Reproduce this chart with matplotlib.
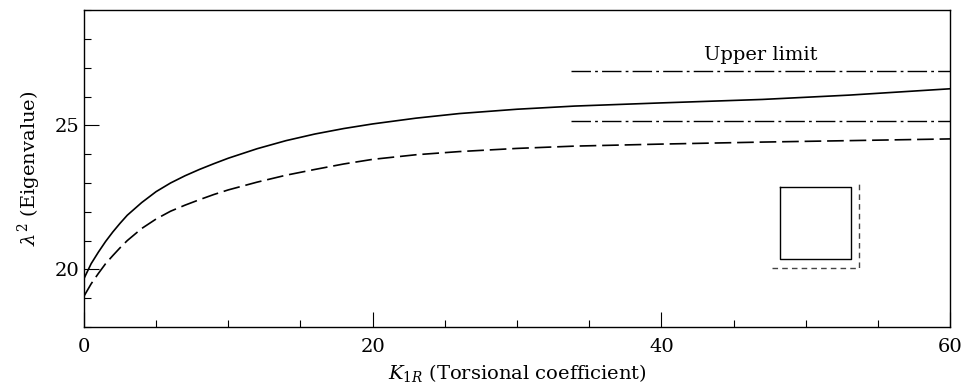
import numpy as np
import matplotlib
matplotlib.use("Agg")
from matplotlib import pyplot as plt
from matplotlib.ticker import MultipleLocator

plt.rcParams['font.family'] = ['DejaVu Serif']
plt.rcParams['mathtext.fontset'] = 'dejavuserif'

# torsional coefficient K_1R
k_vals = [0, 0.5, 1, 1.5, 2, 2.5, 3, 4, 5, 6, 7, 8, 9, 10, 12, 14, 16, 18, 20,
          23, 26, 30, 34, 40, 47, 53, 60]
lam_solid = [19.68, 20.2, 20.6, 20.97, 21.3, 21.6, 21.88, 22.32, 22.7, 23.0, 23.25,
             23.47, 23.67, 23.86, 24.19, 24.47, 24.7, 24.89, 25.05,
             25.25, 25.41, 25.56, 25.67, 25.78, 25.9, 26.05, 26.27]
lam_dashed = [19.07, 19.5, 19.86, 20.2, 20.48, 20.75, 21.0, 21.42, 21.75, 22.02, 22.23,
              22.42, 22.6, 22.76, 23.03, 23.27, 23.47, 23.66, 23.82,
              23.98, 24.09, 24.2, 24.28, 24.35, 24.42, 24.47, 24.53]

# upper limits (dash-dot)
limit_x = [33.75, 60]
limit_upper = 26.875
limit_lower = 25.16

# little cross-section sketch
sq_x = [48.19, 53.15, 53.15, 48.19, 48.19]
sq_y = [22.86, 22.86, 20.36, 20.36, 22.86]
edge_x = [47.66, 53.69, 53.69]
edge_y = [20.05, 20.05, 23.11]

fig = plt.figure(figsize=(9.65, 3.9), dpi=100)
ax = fig.add_axes([0.087, 0.1615, 0.8975, 0.8125])

lw = 1.2
ax.plot(k_vals, lam_solid, color='black', lw=lw)
ax.plot(k_vals, lam_dashed, color='black', lw=lw, dashes=(10, 3.5))
ax.plot(limit_x, [limit_upper] * 2, color='black', lw=1.0, dashes=(14, 3, 2, 3))
ax.plot(limit_x, [limit_lower] * 2, color='black', lw=1.0, dashes=(14, 3, 2, 3))
ax.text(46.9, 27.45, 'Upper limit', ha='center', va='center', fontsize=14)

ax.plot(sq_x, sq_y, color='black', lw=1.0)
ax.plot(edge_x, edge_y, color='#444444', lw=1.0, dashes=(4, 3))

ax.set_xlim(0, 60)
ax.set_ylim(18, 29)
ax.xaxis.set_major_locator(MultipleLocator(20))
ax.xaxis.set_minor_locator(MultipleLocator(5))
ax.yaxis.set_major_locator(MultipleLocator(5))
ax.yaxis.set_minor_locator(MultipleLocator(1))
ax.set_yticks([20, 25])
ax.tick_params(which='both', direction='in', labelsize=14, width=0.8)
ax.tick_params(which='major', length=11)
ax.tick_params(which='minor', length=5)
ax.tick_params(axis='x', pad=8)

for s in ax.spines.values():
    s.set_linewidth(1.0)

ax.set_xlabel(r'$K_{1R}$ (Torsional coefficient)', fontsize=14, labelpad=4)
ax.set_ylabel(r'$\lambda^2$ (Eigenvalue)', fontsize=14, labelpad=8)

fig.savefig('out.png', dpi=100)
